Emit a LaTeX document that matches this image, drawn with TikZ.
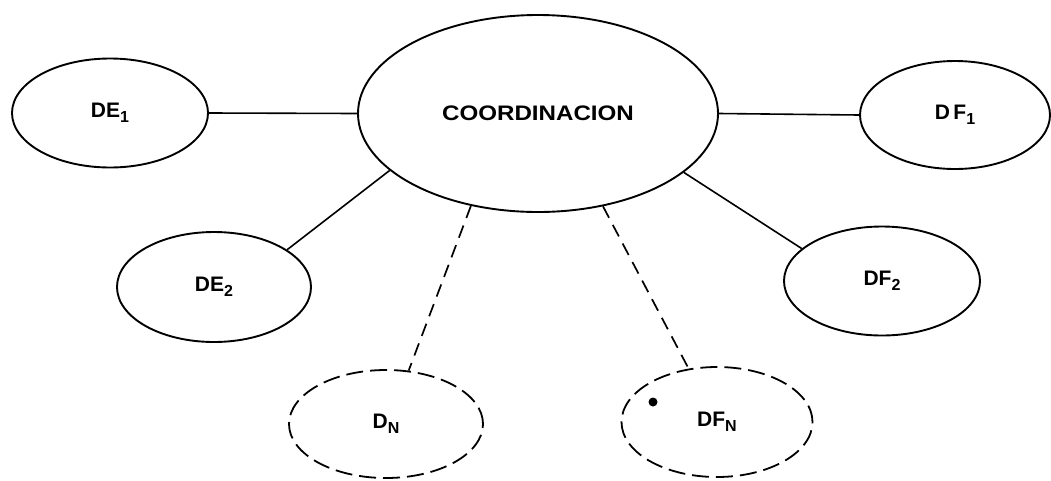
\documentclass[tikz,border=0pt]{standalone}
\usepackage{fontspec}
\setmainfont{Liberation Sans}
\usetikzlibrary{shapes.geometric}
% lowered index for unit labels
\newcommand\lowidx[1]{\raisebox{-5.5pt}{\fontsize{16}{16}\selectfont #1}}
\begin{document}
\begin{tikzpicture}[x=1pt,y=-1pt,
  unit/.style={ellipse,draw,line width=1.9pt,inner sep=0pt,
    font=\fontsize{21}{21}\selectfont\bfseries},
  faint/.style={unit,line width=1.8pt,dash pattern=on 17pt off 7pt},
  link/.style={line width=1.6pt},
  dlink/.style={link,line width=1.7pt,dash pattern=on 13pt off 8pt}]
\useasboundingbox (0,0) rectangle (1051,480);

% central unit
\node[unit,minimum width=360pt,minimum height=197pt] (coord) at (538,113.5)
  {\scalebox{1.15}[1]{COORDINACION}};

% units around it
\node[unit,minimum width=196pt,minimum height=109pt] (de1) at (110,113) {DE\lowidx{1}};
\node[unit,minimum width=194pt,minimum height=110pt] (de2) at (214,287) {DE\lowidx{2}};
\node[unit,minimum width=190pt,minimum height=108pt] (df1) at (955,115) {D\,F\lowidx{1}};
\node[unit,minimum width=196pt,minimum height=109pt] (df2) at (882,281) {DF\lowidx{2}};
\node[faint,minimum width=194pt,minimum height=108pt] (dn) at (386,424) {D\lowidx{N}};
\node[faint,minimum width=191pt,minimum height=110pt] (dfn) at (717,422) {DF\lowidx{N}};

% connections
\draw[link] (de1.east) -- (coord.west);
\draw[link] (coord.east) -- (df1.west);
\draw[link] (de2.27.5) -- (coord.201.2);
\draw[link] (coord.338.6) -- (df2.158.6);
\draw[dlink] (coord.234.8) -- (dn.67.8);
\draw[dlink] (coord.305.3) -- (dfn.118.2);

% ink spot inside DF_N
\fill (653,402) circle (4.5);
\end{tikzpicture}
\end{document}
